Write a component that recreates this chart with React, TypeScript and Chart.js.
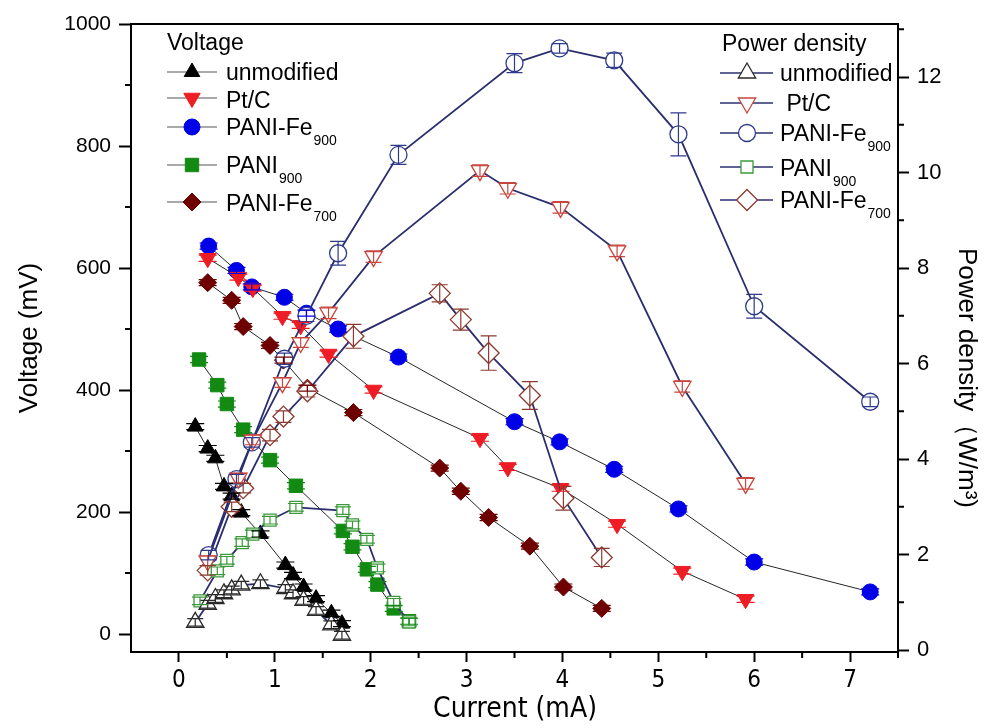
import React, { useEffect, useRef } from "react";
import { Chart, registerables } from "chart.js";

Chart.register(...registerables);

// ---------------- data ----------------
const xTicks = [0, 1, 2, 3, 4, 5, 6, 7];
const xMinorTicks = [0.5, 1.5, 2.5, 3.5, 4.5, 5.5, 6.5, 7.5];
const voltageTicks = [0, 200, 400, 600, 800, 1000];
const voltageMinorTicks = [100, 300, 500, 700, 900];
const powerTicks = [0, 2, 4, 6, 8, 10, 12];
const powerMinorTicks = [1, 3, 5, 7, 9, 11, 13];

const VOLTAGE_ERR = 5;

const unmodifiedCurrent = [0.17, 0.3, 0.38, 0.47, 0.55, 0.65, 0.85, 1.11, 1.19, 1.3, 1.43, 1.59, 1.7];
const unmodifiedVoltage = [340, 304, 288, 242, 226, 199, 164, 113, 96, 77, 58, 34, 17];
const unmodifiedPower = [0.58, 0.96, 1.08, 1.18, 1.26, 1.36, 1.39, 1.29, 1.18, 1.04, 0.83, 0.53, 0.31];
const unmodifiedPowerErr = [0.08, 0.08, 0.08, 0.08, 0.08, 0.08, 0.08, 0.08, 0.08, 0.08, 0.08, 0.08, 0.08];

const ptcCurrent = [0.3, 0.62, 0.77, 1.08, 1.27, 1.56, 2.03, 3.14, 3.43, 3.98, 4.57, 5.25, 5.91];
const ptcVoltage = [616, 585, 567, 521, 506, 459, 400, 321, 273, 239, 180, 103, 57];
const ptcPower = [1.87, 3.6, 4.4, 5.6, 6.44, 7.06, 8.24, 10.04, 9.67, 9.27, 8.36, 5.52, 3.49];
const ptcPowerErr = [0.1, 0.1, 0.1, 0.1, 0.1, 0.12, 0.12, 0.12, 0.12, 0.12, 0.12, 0.12, 0.12];

const fe900Current = [0.31, 0.6, 0.76, 1.1, 1.33, 1.66, 2.29, 3.5, 3.97, 4.54, 5.21, 6.0, 7.21];
const fe900Voltage = [636, 596, 569, 552, 526, 500, 454, 348, 315, 270, 205, 118, 69];
const fe900Power = [1.99, 3.58, 4.35, 6.1, 7.0, 8.31, 10.37, 12.29, 12.6, 12.35, 10.8, 7.2, 5.2];
const fe900PowerErr = [0.1, 0.1, 0.1, 0.12, 0.12, 0.25, 0.2, 0.2, 0.1, 0.15, 0.45, 0.25, 0.1];

const pani900Current = [0.21, 0.4, 0.5, 0.67, 0.95, 1.22, 1.71, 1.81, 1.96, 2.07, 2.24, 2.4];
const pani900Voltage = [450, 408, 377, 335, 285, 243, 169, 143, 106, 81, 42, 21];
const pani900PowerCurrent = [0.22, 0.4, 0.5, 0.66, 0.77, 0.95, 1.22, 1.71, 1.81, 1.96, 2.07, 2.24, 2.4];
const pani900Power = [1.03, 1.66, 1.88, 2.25, 2.43, 2.72, 2.99, 2.92, 2.62, 2.32, 1.72, 1.0, 0.59];
const pani900PowerErr = [0.08, 0.08, 0.08, 0.08, 0.08, 0.08, 0.08, 0.08, 0.08, 0.08, 0.08, 0.08, 0.08];

const fe700Current = [0.3, 0.55, 0.67, 0.95, 1.09, 1.34, 1.82, 2.72, 2.94, 3.23, 3.66, 4.01, 4.41];
const fe700Voltage = [576, 547, 504, 473, 449, 403, 363, 272, 234, 191, 144, 77, 42];
const fe700Power = [1.67, 3.0, 3.39, 4.5, 4.89, 5.42, 6.57, 7.47, 6.92, 6.22, 5.33, 3.18, 1.94];
const fe700PowerErr = [0.1, 0.1, 0.1, 0.12, 0.12, 0.12, 0.25, 0.18, 0.22, 0.36, 0.29, 0.25, 0.19];

// ---------------- styling ----------------
const SANS = "'Liberation Sans', Arial, sans-serif";
const NARROW = "'Liberation Sans Narrow', 'DejaVu Sans Condensed', 'Liberation Sans', sans-serif";

const C_BLACK = "#000000";
const C_RED = "#ee1c24";
const C_BLUE = "#0000e8";
const C_GREEN = "#138a13";
const C_DKRED = "#6e0000";
const C_VLINE = "#262626";
const C_PLINE = "#2a2e6e";
const C_P_UNMOD = "#2a2a2a";
const C_P_PTC = "#c8463e";
const C_P_FE900 = "#2e3a8c";
const C_P_PANI = "#3a9a3a";
const C_P_FE700 = "#8b3a30";

const pts = (xs: number[], ys: number[]) => xs.map((x, i) => ({ x, y: ys[i] }));

function voltageSet(label: string, xs: number[], ys: number[], style: string, color: string, r: number, rot = 0) {
  return {
    label,
    data: pts(xs, ys),
    yAxisID: "y",
    showLine: true,
    borderColor: C_VLINE,
    borderWidth: 1,
    pointStyle: style,
    pointRotation: rot,
    pointRadius: r,
    pointBackgroundColor: color,
    pointBorderColor: color,
    pointBorderWidth: 1,
    tension: 0,
    errors: xs.map(() => VOLTAGE_ERR),
    errColor: color,
    errCap: 9,
  };
}

function powerSet(label: string, xs: number[], ys: number[], errs: number[], style: string, color: string, r: number, rot = 0) {
  return {
    label,
    data: pts(xs, ys),
    yAxisID: "y2",
    showLine: true,
    borderColor: C_PLINE,
    borderWidth: 1.8,
    pointStyle: style,
    pointRotation: rot,
    pointRadius: r,
    pointBackgroundColor: "#ffffff",
    pointBorderColor: color,
    pointBorderWidth: 1.3,
    tension: 0,
    errors: errs,
    errColor: color,
    errCap: 8,
  };
}

function drawMarker(ctx: CanvasRenderingContext2D, shape: string, x: number, y: number, r: number, fill: string, stroke: string, lw: number) {
  ctx.beginPath();
  if (shape === "circle") {
    ctx.arc(x, y, r, 0, Math.PI * 2);
  } else if (shape === "up") {
    ctx.moveTo(x, y - r);
    ctx.lineTo(x + r * 0.866, y + r * 0.5);
    ctx.lineTo(x - r * 0.866, y + r * 0.5);
    ctx.closePath();
  } else if (shape === "down") {
    ctx.moveTo(x, y + r);
    ctx.lineTo(x + r * 0.866, y - r * 0.5);
    ctx.lineTo(x - r * 0.866, y - r * 0.5);
    ctx.closePath();
  } else if (shape === "square") {
    const s = r * Math.SQRT1_2;
    ctx.rect(x - s, y - s, 2 * s, 2 * s);
  } else if (shape === "diamond") {
    ctx.moveTo(x, y - r);
    ctx.lineTo(x + r, y);
    ctx.lineTo(x, y + r);
    ctx.lineTo(x - r, y);
    ctx.closePath();
  }
  ctx.fillStyle = fill;
  ctx.fill();
  ctx.lineWidth = lw;
  ctx.strokeStyle = stroke;
  ctx.stroke();
}

function drawLabel(ctx: CanvasRenderingContext2D, x: number, y: number, main: string, sub?: string) {
  ctx.font = `23px ${SANS}`;
  ctx.textAlign = "left";
  ctx.textBaseline = "alphabetic";
  ctx.fillStyle = "#000";
  ctx.fillText(main, x, y);
  if (sub) {
    const w = ctx.measureText(main).width;
    ctx.font = `14px ${SANS}`;
    ctx.fillText(sub, x + w + 1, y + 10);
  }
}

const overlayPlugin = {
  id: "overlay",
  afterDatasetsDraw(chart: any) {
    const ctx: CanvasRenderingContext2D = chart.ctx;
    const xs = chart.scales.x;
    ctx.save();
    chart.data.datasets.forEach((ds: any) => {
      const ys = chart.scales[ds.yAxisID];
      if (!ds.errors) return;
      ctx.strokeStyle = ds.errColor;
      ctx.lineWidth = 1.2;
      ds.data.forEach((p: any, i: number) => {
        const e = ds.errors[i];
        const px = xs.getPixelForValue(p.x);
        const y1 = ys.getPixelForValue(p.y + e);
        const y2 = ys.getPixelForValue(p.y - e);
        const c = ds.errCap;
        ctx.beginPath();
        ctx.moveTo(px, y1);
        ctx.lineTo(px, y2);
        ctx.moveTo(px - c, y1);
        ctx.lineTo(px + c, y1);
        ctx.moveTo(px - c, y2);
        ctx.lineTo(px + c, y2);
        ctx.stroke();
      });
    });
    ctx.restore();
  },
  afterDraw(chart: any) {
    const ctx: CanvasRenderingContext2D = chart.ctx;
    const a = chart.chartArea;
    const sx = chart.scales.x;
    const sy = chart.scales.y;
    const sy2 = chart.scales.y2;
    ctx.save();
    // top frame
    ctx.strokeStyle = "#000";
    ctx.lineWidth = 2;
    ctx.beginPath();
    ctx.moveTo(a.left - 1, a.top);
    ctx.lineTo(a.right + 1, a.top);
    ctx.stroke();
    // minor ticks
    ctx.beginPath();
    xMinorTicks.forEach((v) => {
      const p = sx.getPixelForValue(v);
      ctx.moveTo(p, a.bottom);
      ctx.lineTo(p, a.bottom + 6);
    });
    voltageMinorTicks.forEach((v) => {
      const p = sy.getPixelForValue(v);
      ctx.moveTo(a.left, p);
      ctx.lineTo(a.left - 6, p);
    });
    powerMinorTicks.forEach((v) => {
      const p = sy2.getPixelForValue(v);
      ctx.moveTo(a.right, p);
      ctx.lineTo(a.right + 6, p);
    });
    ctx.stroke();

    // axis titles
    ctx.fillStyle = "#000";
    ctx.textAlign = "center";
    ctx.textBaseline = "middle";
    ctx.save();
    ctx.translate(30, 338);
    ctx.rotate(-Math.PI / 2);
    ctx.font = `26px ${SANS}`;
    ctx.fillText("Voltage (mV)", 0, 0);
    ctx.restore();

    ctx.font = `28px ${NARROW}`;
    ctx.fillText("Current (mA)", 515, 710);

    ctx.save();
    ctx.translate(966, 378);
    ctx.rotate(Math.PI / 2);
    ctx.font = `26px ${SANS}`;
    ctx.fillText("Power density\uFF08W/m\u00B3)", 0, 0);
    ctx.restore();

    // legends
    ctx.font = `23px ${SANS}`;
    ctx.textAlign = "left";
    ctx.textBaseline = "alphabetic";
    ctx.fillText("Voltage", 167, 50);
    ctx.fillText("Power density", 722, 51);

    const leftItems = [
      { shape: "up", fill: C_BLACK, stroke: C_BLACK, r: 9, my: 72, by: 80, main: "unmodified" },
      { shape: "down", fill: C_RED, stroke: C_RED, r: 9.5, my: 98, by: 108, main: "Pt/C" },
      { shape: "circle", fill: C_BLUE, stroke: C_BLUE, r: 8, my: 127, by: 135, main: "PANI-Fe", sub: "900" },
      { shape: "square", fill: C_GREEN, stroke: C_GREEN, r: 9.5, my: 165, by: 173, main: "PANI", sub: "900" },
      { shape: "diamond", fill: C_DKRED, stroke: C_DKRED, r: 9, my: 202, by: 211, main: "PANI-Fe", sub: "700" },
    ];
    leftItems.forEach((it) => {
      ctx.strokeStyle = "#555";
      ctx.lineWidth = 1.2;
      ctx.beginPath();
      ctx.moveTo(167, it.my);
      ctx.lineTo(217, it.my);
      ctx.stroke();
      drawMarker(ctx, it.shape, 192, it.my, it.r, it.fill, it.stroke, 1);
      drawLabel(ctx, 226, it.by, it.main, it.sub);
    });

    const rightItems = [
      { shape: "up", stroke: C_P_UNMOD, r: 10, my: 73, by: 81, main: "unmodified" },
      { shape: "down", stroke: C_P_PTC, r: 10, my: 103, by: 111, main: " Pt/C" },
      { shape: "circle", stroke: C_P_FE900, r: 8.5, my: 133, by: 141, main: "PANI-Fe", sub: "900" },
      { shape: "square", stroke: C_P_PANI, r: 8.5, my: 167, by: 176, main: "PANI", sub: "900" },
      { shape: "diamond", stroke: C_P_FE700, r: 10.5, my: 200, by: 208, main: "PANI-Fe", sub: "700" },
    ];
    rightItems.forEach((it) => {
      ctx.strokeStyle = C_PLINE;
      ctx.lineWidth = 1.6;
      ctx.beginPath();
      ctx.moveTo(720, it.my);
      ctx.lineTo(773, it.my);
      ctx.stroke();
      drawMarker(ctx, it.shape, 747, it.my, it.r, "#fff", it.stroke, 1.3);
      drawLabel(ctx, 780, it.by, it.main, it.sub);
    });
    ctx.restore();
  },
};

export default function App() {
  const ref = useRef<HTMLCanvasElement>(null);

  useEffect(() => {
    document.body.style.margin = "0";
    document.body.style.overflow = "hidden";
    const canvas = ref.current as HTMLCanvasElement;

    const datasets: any[] = [
      powerSet("unmodified P", unmodifiedCurrent, unmodifiedPower, unmodifiedPowerErr, "triangle", C_P_UNMOD, 10),
      powerSet("Pt/C P", ptcCurrent, ptcPower, ptcPowerErr, "triangle", C_P_PTC, 10, 180),
      powerSet("PANI-Fe900 P", fe900Current, fe900Power, fe900PowerErr, "circle", C_P_FE900, 8.5),
      powerSet("PANI900 P", pani900PowerCurrent, pani900Power, pani900PowerErr, "rect", C_P_PANI, 8.5),
      powerSet("PANI-Fe700 P", fe700Current, fe700Power, fe700PowerErr, "rectRot", C_P_FE700, 10.5),
      voltageSet("unmodified", unmodifiedCurrent, unmodifiedVoltage, "triangle", C_BLACK, 9),
      voltageSet("Pt/C", ptcCurrent, ptcVoltage, "triangle", C_RED, 9.5, 180),
      voltageSet("PANI-Fe900", fe900Current, fe900Voltage, "circle", C_BLUE, 8),
      voltageSet("PANI900", pani900Current, pani900Voltage, "rect", C_GREEN, 9.5),
      voltageSet("PANI-Fe700", fe700Current, fe700Voltage, "rectRot", C_DKRED, 9),
    ];

    const chart = new Chart(canvas, {
      type: "line",
      data: { datasets },
      options: {
        responsive: false,
        animation: false,
        devicePixelRatio: 1,
        layout: { padding: { top: 24, left: 0, right: 0, bottom: 0 } },
        plugins: { legend: { display: false }, tooltip: { enabled: false }, title: { display: false } },
        scales: {
          x: {
            type: "linear",
            position: "bottom",
            min: -0.5,
            max: 7.5,
            afterBuildTicks: (s: any) => {
              s.ticks = xTicks.map((v) => ({ value: v }));
            },
            afterFit: (s: any) => {
              s.height = 76;
            },
            ticks: {
              color: "#000",
              font: { family: NARROW, size: 24 },
              padding: 4,
              maxRotation: 0,
              autoSkip: false,
              callback: (v: any) => String(v),
            },
            grid: { drawOnChartArea: false, drawTicks: true, tickLength: 10, tickWidth: 2, tickColor: "#000" },
            border: { display: true, color: "#000", width: 2 },
          },
          y: {
            type: "linear",
            position: "left",
            min: -29.5,
            max: 1000,
            afterBuildTicks: (s: any) => {
              s.ticks = voltageTicks.map((v) => ({ value: v }));
            },
            afterFit: (s: any) => {
              s.width = 131;
            },
            ticks: {
              color: "#000",
              font: { family: SANS, size: 21 },
              padding: 8,
              autoSkip: false,
              callback: (v: any) => String(v),
            },
            grid: { drawOnChartArea: false, drawTicks: true, tickLength: 12, tickWidth: 2, tickColor: "#000" },
            border: { display: true, color: "#000", width: 2 },
          },
          y2: {
            type: "linear",
            position: "right",
            min: -0.04,
            max: 13.11,
            afterBuildTicks: (s: any) => {
              s.ticks = powerTicks.map((v) => ({ value: v }));
            },
            afterFit: (s: any) => {
              s.width = 99;
            },
            ticks: {
              color: "#000",
              font: { family: SANS, size: 22 },
              padding: 8,
              autoSkip: false,
              callback: (v: any) => String(v),
            },
            grid: { drawOnChartArea: false, drawTicks: true, tickLength: 11, tickWidth: 2, tickColor: "#000" },
            border: { display: true, color: "#000", width: 2 },
          },
        },
      } as any,
      plugins: [overlayPlugin],
    });

    return () => chart.destroy();
  }, []);

  return <canvas ref={ref} width={997} height={728} style={{ display: "block", width: 997, height: 728 }} />;
}
